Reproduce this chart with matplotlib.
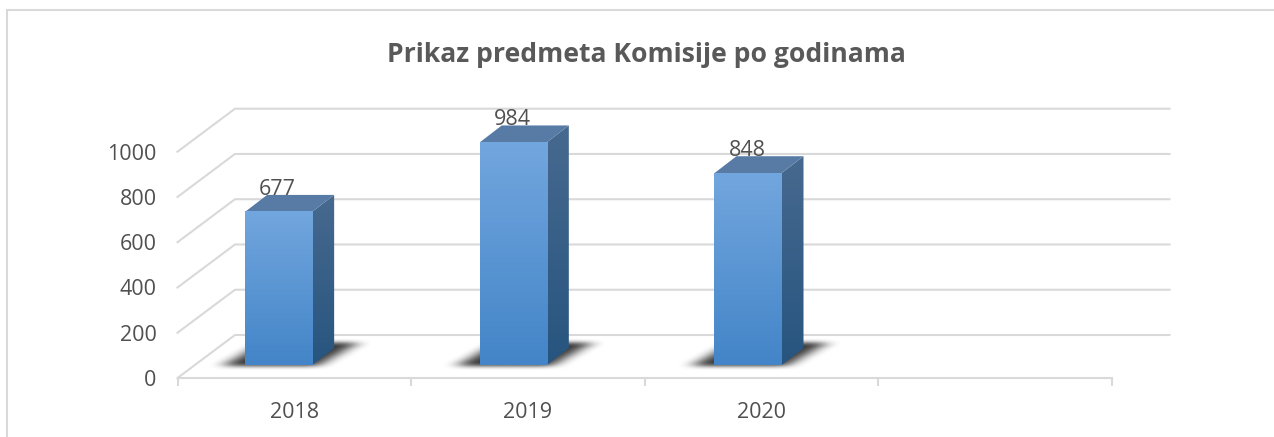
import matplotlib
matplotlib.use('Agg')
import matplotlib.pyplot as plt
from matplotlib.patches import Polygon
import numpy as np

plt.rcParams['font.family'] = ['Open Sans', 'DejaVu Sans']

years = ['2018', '2019', '2020', '']
values = [677, 984, 848]
y_ticks = [0, 200, 400, 600, 800, 1000]

W, H = 1274, 437
GRID = '#d9d9d9'
TEXT = '#505050'

# perspective offsets in data units (x = categories, y = value)
BACK_DX, BACK_DY = 0.246, 190
BAR_DX, BAR_DY = 0.0945, 75
BAR_W = 0.287
BAR_START = -0.211
BAR_STEP = 1.0045
BAR_BASE = 57


def rgb(h):
    return matplotlib.colors.to_rgb(h)


def gradient(ax, x0, x1, y0, y1, top, bottom, clip=None):
    """Vertical colour gradient between two rgb tuples."""
    t = np.linspace(0, 1, 64)[:, None, None]
    img = (1 - t) * np.array(top)[None, None, :] + t * np.array(bottom)[None, None, :]
    im = ax.imshow(img, extent=(x0, x1, y0, y1), aspect='auto', zorder=4, interpolation='bilinear')
    if clip is not None:
        im.set_clip_path(clip)
        im.set_clip_box(ax.figure.bbox)
    else:
        im.set_clip_on(False)
    return im


def blur(a, nx, ny):
    """Box blur applied twice along both image axes."""
    kx = np.ones(nx) / nx
    ky = np.ones(ny) / ny
    for _ in range(2):
        a = np.apply_along_axis(lambda r: np.convolve(r, ky, mode='same'), 0, a)
        a = np.apply_along_axis(lambda r: np.convolve(r, kx, mode='same'), 1, a)
    return a


def draw_shadow(ax, x, w):
    # soft shadow lying on the floor behind and beside the bar
    x0, x1 = x - 0.25, x + w + 0.42
    y0, y1 = BAR_BASE - 50, BAR_BASE + 145
    xx, yy = np.meshgrid(np.linspace(x0, x1, 230), np.linspace(y1, y0, 86))
    t = (yy - (BAR_BASE - 8)) / 100
    left = x - 0.1 + t * 0.17
    right = x + w + 0.02 + t * 0.17
    mask = ((yy > BAR_BASE - 8) & (yy < BAR_BASE + 95) & (xx > left) & (xx < right)).astype(float)
    alpha = blur(mask, 19, 9) * 0.78
    img = np.zeros(mask.shape + (4,))
    img[..., 3] = alpha
    im = ax.imshow(img, extent=(x0, x1, y0, y1), aspect='auto', zorder=3, interpolation='bilinear')
    im.set_clip_on(False)


def draw_bar(ax, x, value):
    top = BAR_BASE + value
    w = BAR_W
    draw_shadow(ax, x, w)
    # side face
    side = Polygon([(x + w, BAR_BASE), (x + w + BAR_DX, BAR_BASE + BAR_DY), (x + w + BAR_DX, top + BAR_DY),
                    (x + w, top)], closed=True, facecolor='none', edgecolor='none', clip_on=False)
    ax.add_patch(side)
    gradient(ax, x + w, x + w + BAR_DX, BAR_BASE, top + BAR_DY, rgb('#47698f'), rgb('#27557f'), clip=side)
    # top face
    ax.add_patch(Polygon([(x, top), (x + w, top), (x + w + BAR_DX, top + BAR_DY), (x + BAR_DX, top + BAR_DY)],
                         closed=True, facecolor='#577ba5', edgecolor='none', zorder=5, clip_on=False))
    # front face
    gradient(ax, x, x + w, BAR_BASE, top, rgb('#72a6de'), rgb('#4385c8')).set_zorder(6)


fig = plt.figure(figsize=(W / 100, H / 100), dpi=100)

# chart frame, open on the right and at the bottom
frame = fig.add_axes([0, 0, 1, 1])
frame.set_xlim(0, W)
frame.set_ylim(H, 0)
frame.axis('off')
frame.plot([7, 7, W], [H, 10, 10], color=GRID, lw=1.5, solid_joinstyle='miter')

ax = fig.add_axes([177.5 / W, 1 - 378 / H, (1112 - 177.5) / W, (378 - 151.7) / H])
ax.patch.set_alpha(0)
for s in ax.spines.values():
    s.set_visible(False)

# wall and floor gridlines
for v in y_ticks:
    ax.plot([-0.5, -0.5 + BACK_DX, 3.5 + BACK_DX], [v, v + BACK_DY, v + BACK_DY], color=GRID, lw=1.5,
            clip_on=False, zorder=1, solid_joinstyle='miter')
ax.plot([-0.5, 3.5], [0, 0], color=GRID, lw=1.5, clip_on=False, zorder=1)

for i, v in enumerate(values):
    x = BAR_START + i * BAR_STEP
    draw_bar(ax, x, v)
    ax.text(x + 0.14, BAR_BASE + v + 75, str(v), color=TEXT, fontsize=15.5, ha='center', va='baseline', zorder=4.5)

ax.set_xlim(-0.5, 3.5)
ax.set_ylim(0, 1000)
ax.set_xticks(np.arange(-0.5, 4, 1), minor=False)
ax.set_xticklabels([])
ax.set_yticks(y_ticks)
ax.set_yticklabels([str(v) for v in y_ticks], color=TEXT, fontsize=15.5)
ax.tick_params(axis='y', length=0, pad=15)
ax.tick_params(axis='x', length=6, width=1.5, color=GRID)
for i, label in enumerate(years):
    ax.text(i, -105, label, color=TEXT, fontsize=15.5, ha='center', va='top', clip_on=False)

fig.text(646.5 / W, 1 - 55 / H, 'Prikaz predmeta Komisije po godinama', color='#595959', fontsize=19.1,
         fontweight='bold', ha='center', va='center')

fig.savefig('out.png', dpi=100)
